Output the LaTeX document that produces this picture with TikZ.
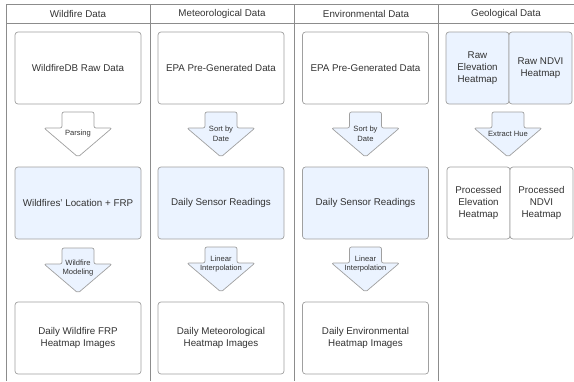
\documentclass[tikz,border=0pt]{standalone}
\usepackage{fontspec}
\setmainfont{Liberation Sans}
\definecolor{lineg}{HTML}{8C8C8C}
\definecolor{boxg}{HTML}{A0A0A0}
\definecolor{paleblue}{HTML}{EBF3FF}
\definecolor{txt}{HTML}{333333}
\begin{document}
\begin{tikzpicture}[x=1pt,y=-1pt,
  frame/.style={draw=lineg,line width=0.8pt},
  databox/.style={draw=boxg,line width=0.7pt,rounded corners=3pt,fill=white,
    minimum width=126pt,minimum height=72pt,align=center,text=txt,
    font=\fontsize{9.8}{12}\selectfont},
  bluebox/.style={databox,fill=paleblue},
  halfbox/.style={databox,minimum width=63pt},
  head/.style={text=txt,font=\fontsize{9.8}{12}\selectfont},
  arrlabel/.style={text=txt,align=center,font=\fontsize{7.6}{9.5}\selectfont},
  arrw/.style={draw=boxg,line width=0.7pt,rounded corners=2pt,fill=white},
  arrb/.style={arrw,fill=paleblue}]
\useasboundingbox (0,0) rectangle (574,381);
% frame
\draw[frame] (6,381) -- (6,4) -- (574,4);
\draw[frame] (6,23) -- (574,23);
\foreach \xx in {150,294,438} \draw[frame] (\xx,4) -- (\xx,381);
% headers
\node[head] (h1) at (78,13.5) {Wildfire Data};
\node[head] (h2) at (222,13.5) {Meteorological Data};
\node[head] (h3) at (366,13.5) {Environmental Data};
\node[head] (h4) at (506,13.5) {Geological Data};
% arrow macro: center x, top y, style
\newcommand\blockarrow[3]{%
  \path[#3] (#1-16,#2+16) -- (#1-16,#2) -- (#1+16,#2) -- (#1+16,#2+16)
    -- (#1+34,#2+16) -- (#1,#2+45) -- (#1-34,#2+16) -- cycle;}
% column 1
\node[databox] (a1) at (78,68) {WildfireDB Raw Data};
\blockarrow{78}{112}{arrw}
\node[arrlabel] (p1) at (78,134) {Parsing};
\node[bluebox] (a2) at (78,203) {Wildfires' Location + FRP};
\blockarrow{78}{248}{arrb}
\node[arrlabel] (p2) at (78,268) {Wildfire\\Modeling};
\node[databox] (a3) at (78,338) {Daily Wildfire FRP\\Heatmap Images};
% column 2
\node[databox] (b1) at (221,68) {EPA Pre-Generated Data};
\blockarrow{221}{112}{arrb}
\node[arrlabel] (q1) at (221,134) {Sort by\\Date};
\node[bluebox] (b2) at (221,203) {Daily Sensor Readings};
\blockarrow{221}{247}{arrb}
\node[arrlabel] (q2) at (221,264) {Linear\\Interpolation};
\node[databox] (b3) at (221,338) {Daily Meteorological\\Heatmap Images};
% column 3
\node[databox] (c1) at (365.5,68) {EPA Pre-Generated Data};
\blockarrow{365.5}{112}{arrb}
\node[arrlabel] (r1) at (365.5,134) {Sort by\\Date};
\node[bluebox] (c2) at (365.5,203) {Daily Sensor Readings};
\blockarrow{365.5}{247}{arrb}
\node[arrlabel] (r2) at (365.5,264) {Linear\\Interpolation};
\node[databox] (c3) at (365.5,338) {Daily Environmental\\Heatmap Images};
% column 4
\node[halfbox,fill=paleblue] (d1) at (477.5,68) {Raw\\Elevation\\Heatmap};
\node[halfbox,fill=paleblue] (d2) at (540.5,68) {Raw NDVI\\Heatmap};
\blockarrow{508}{112}{arrb}
\node[arrlabel] (s1) at (508,134) {Extract Hue};
\node[halfbox] (d3) at (478.5,203) {Processed\\Elevation\\Heatmap};
\node[halfbox] (d4) at (541.5,203) {Processed\\NDVI\\Heatmap};
\end{tikzpicture}
\end{document}
